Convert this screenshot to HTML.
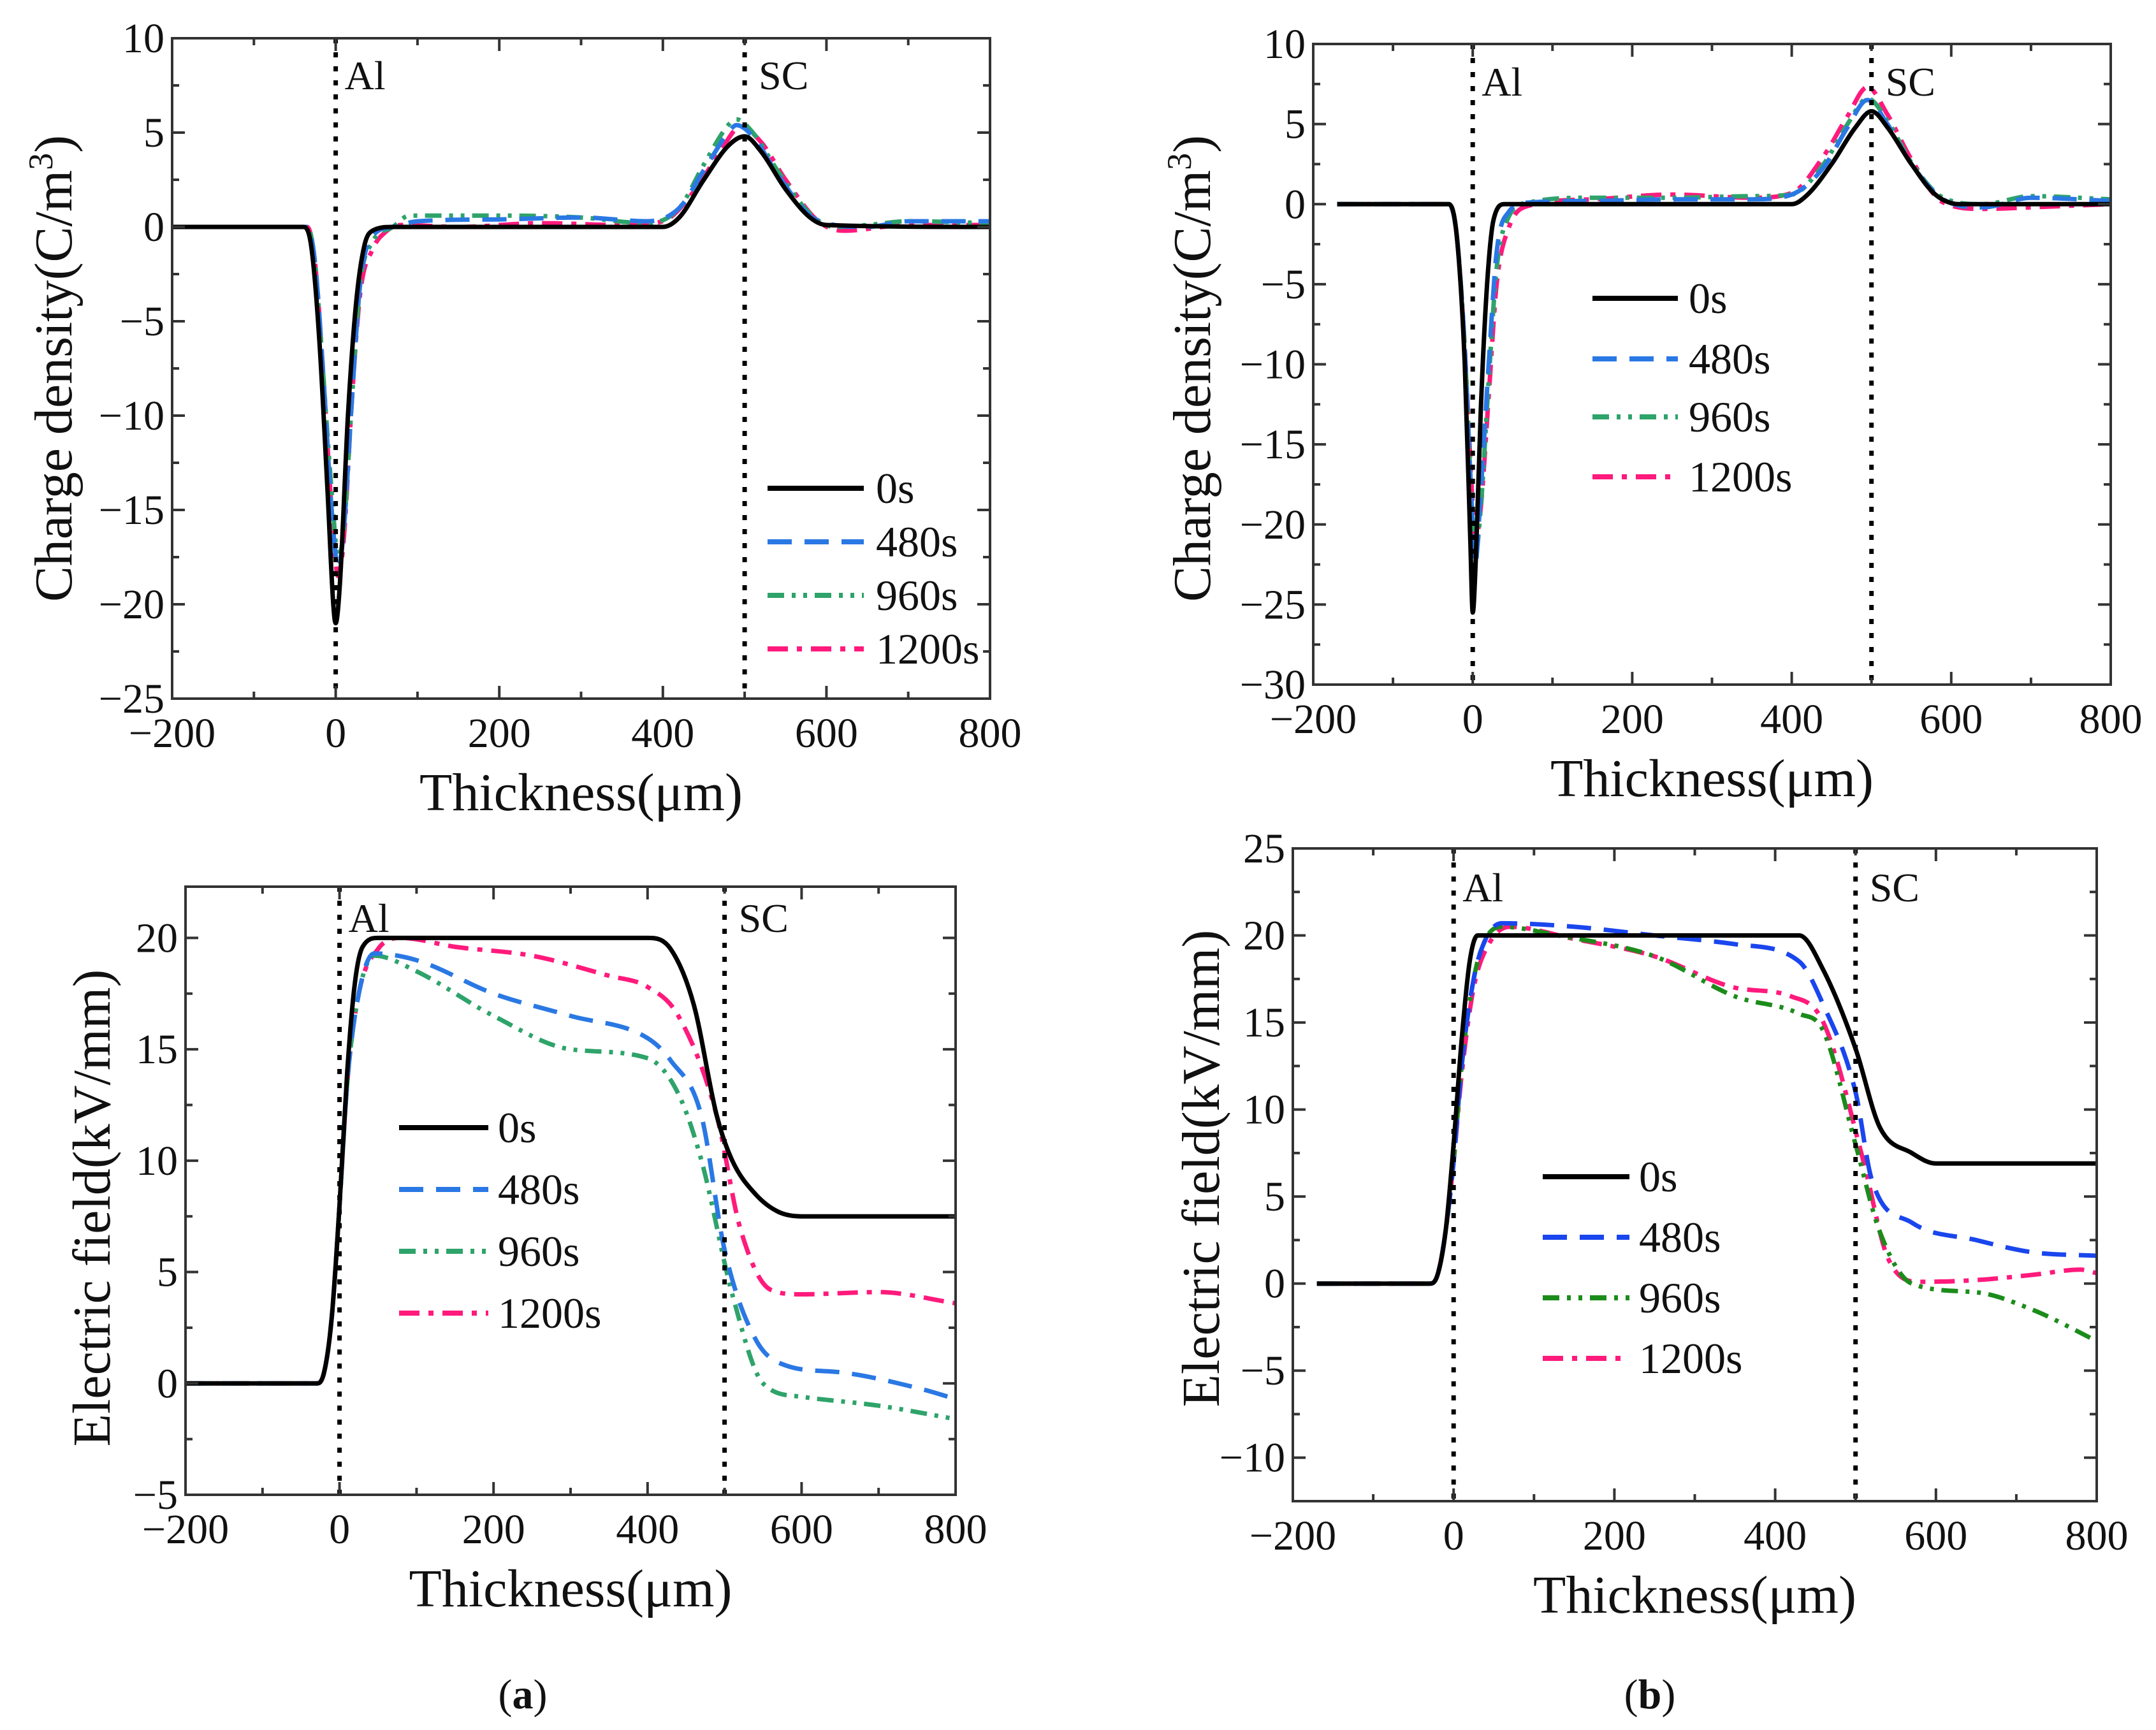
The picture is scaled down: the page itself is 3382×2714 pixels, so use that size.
<!DOCTYPE html>
<html><head><meta charset="utf-8"><style>
html,body{margin:0;padding:0;background:#fff}
svg text{font-family:"Liberation Serif","Times New Roman",serif;fill:#111}
</style></head><body>
<svg id="chart" width="3382" height="2709" viewBox="0 0 3382 2709" xmlns="http://www.w3.org/2000/svg" font-family="Liberation Serif, serif"></svg>
<script>
// ---- data (x in µm, y values) ----
const seriesNames = ["0s","480s","960s","1200s"];
const xTicks = [-200,0,200,400,600,800];
const yTicksA = [10,5,0,-5,-10,-15,-20,-25];
const yTicksB = [10,5,0,-5,-10,-15,-20,-25,-30];
const yTicksC = [20,15,10,5,0,-5];
const yTicksD = [25,20,15,10,5,0,-5,-10];

const qa0 = [[-200,0],[-40,0],[-30,-1],[-20,-6],[-10,-14],[-3,-20],[0,-21],[5,-19],[15,-10],[25,-4],[35,-1],[45,-0.2],[70,0],[400,0],[420,0.5],[450,2.5],[480,4.3],[500,4.8],[520,4],[550,2],[580,0.5],[600,0.1],[800,0]];
const qa1 = [[-200,0],[-35,0],[-25,-2],[-15,-8],[-5,-15],[3,-18],[10,-16],[20,-9],[30,-3],[45,-0.5],[70,0],[100,0.3],[200,0.4],[300,0.5],[380,0.3],[420,1],[450,3],[480,5],[490,5.4],[510,4.8],[540,2.8],[580,0.6],[610,0.1],[650,0],[700,0.3],[800,0.3]];
const qa2 = [[-200,0],[-35,0],[-25,-2],[-15,-8],[-5,-14],[3,-17.5],[10,-16],[20,-9],[30,-3],[45,-0.8],[70,0],[90,0.6],[200,0.6],[300,0.5],[380,0.2],[420,1],[450,3.3],[480,5.4],[490,5.7],[510,5],[540,3],[580,0.7],[610,0],[650,0.1],[700,0.3],[800,0.2]];
const qa3 = [[-200,0],[-35,0],[-25,-2],[-15,-8],[-5,-15],[3,-18.5],[10,-16.5],[20,-9],[30,-3.5],[45,-1.2],[60,-0.3],[80,0.1],[150,0],[250,0.2],[350,0.1],[400,0.3],[440,2],[470,4],[495,5.3],[520,4.5],[550,2.5],[590,0.3],[620,-0.2],[700,0.1],[800,0.1]];

const qb0 = [[-170,0],[-30,0],[-20,-2],[-10,-10],[-3,-21],[0,-25.5],[4,-22],[10,-13],[18,-5],[26,-1],[40,0],[400,0],[420,0.6],[450,2.5],[480,4.8],[500,5.8],[520,4.8],[550,2.5],[580,0.6],[610,0],[800,0]];
const qb1 = [[-170,0],[-30,0],[-20,-2],[-10,-9],[-2,-18],[3,-22.5],[10,-18],[20,-10],[30,-3],[45,-0.5],[70,0.1],[150,0.2],[250,0.3],[350,0.3],[400,0.6],[440,2.3],[470,4.8],[495,6.5],[520,5],[550,2.5],[590,0.3],[640,-0.2],[700,0.4],[800,0.2]];
const qb2 = [[-170,0],[-30,0],[-20,-2],[-10,-9],[-2,-18],[3,-22],[10,-19],[20,-11],[30,-4],[45,-0.8],[70,0.1],[150,0.4],[250,0.4],[350,0.5],[400,0.6],[440,2.5],[470,5],[495,6.6],[520,5.2],[550,2.6],[590,0.4],[640,0],[700,0.5],[800,0.3]];
const qb3 = [[-170,0],[-30,0],[-20,-2],[-10,-9],[-2,-17],[3,-21],[10,-19],[20,-12],[30,-5],[45,-1.5],[70,-0.1],[150,0.3],[250,0.6],[350,0.4],[400,0.7],[440,3],[470,5.5],[495,7.3],[520,5.6],[550,2.8],[590,0.1],[640,-0.3],[700,-0.2],[800,0]];

const ea0 = [[-200,0],[-30,0],[-20,0.5],[-10,3],[0,8],[10,14],[20,18],[30,19.6],[50,20],[400,20],[430,19.5],[460,17],[490,12],[510,10],[540,8.5],[570,7.7],[600,7.5],[800,7.5]];
const ea1 = [[-200,0],[-30,0],[-20,0.5],[-10,3],[0,8],[10,13.5],[25,17.5],[45,19.3],[100,19],[200,17.5],[300,16.5],[400,15.5],[430,14.5],[470,12],[500,6],[540,2],[580,0.8],[650,0.5],[750,-0.2],[800,-0.7]];
const ea2 = [[-200,0],[-30,0],[-20,0.5],[-10,3],[0,8],[10,13.5],[25,17.5],[45,19.2],[100,18.5],[200,16.5],[300,15],[400,14.6],[440,13],[470,10],[510,4],[550,0],[600,-0.6],[700,-1],[800,-1.6]];
const ea3 = [[-200,0],[-30,0],[-20,0.5],[-10,3],[0,8],[10,13.5],[25,17.5],[50,19.5],[80,20],[150,19.6],[250,19.2],[350,18.3],[400,17.8],[440,16.5],[490,12],[520,7],[560,4.2],[600,4],[700,4.1],[800,3.6]];

const eb0 = [[-170,0],[-30,0],[-20,0.5],[-10,3],[0,8],[10,14],[20,18.5],[30,20],[430,20],[460,18],[500,13.5],[530,9],[570,7.5],[600,6.9],[800,6.9]];
const eb1 = [[-170,0],[-30,0],[-20,0.5],[-10,3],[0,7],[10,12.5],[25,17.5],[40,19.8],[60,20.7],[150,20.5],[250,20],[350,19.5],[430,18.5],[460,16],[500,11],[520,6],[570,3.5],[650,2.5],[720,1.8],[800,1.6]];
const eb2 = [[-170,0],[-30,0],[-20,0.5],[-10,3],[0,7],[10,12.5],[25,17.5],[40,19.8],[60,20.5],[130,20],[250,18.8],[350,16.5],[430,15.5],[460,14.5],[500,8],[530,3],[570,0],[650,-0.5],[720,-1.5],[800,-3.3]];
const eb3 = [[-170,0],[-30,0],[-20,0.5],[-10,3],[0,7],[10,12],[25,17],[45,19.6],[70,20.5],[150,19.8],[250,18.8],[350,17],[420,16.5],[460,15],[510,7],[540,1.5],[580,0.1],[650,0.2],[720,0.5],[780,0.8],[800,0.6]];

const NS="http://www.w3.org/2000/svg";
const svg=document.getElementById('chart');
function mk(tag,attrs,parent){const e=document.createElementNS(NS,tag);for(const k in attrs)e.setAttribute(k,attrs[k]);(parent||svg).appendChild(e);return e;}

const colorsAB=["#000","#2a78e4","#2ea36a","#ff1a7c"];
const colorsD=["#000","#1a46ee","#1b8c1b","#ff1a7c"];
const dashes=["", "38 20", "26 12 6 12 6 12", "32 14 8 14"];

// monotone cubic (Fritsch-Carlson) in pixel space, x strictly increasing
function monoPath(pts){
  const n=pts.length, dx=[], s=[], m=[];
  for(let i=0;i<n-1;i++){dx[i]=pts[i+1][0]-pts[i][0];s[i]=(pts[i+1][1]-pts[i][1])/dx[i];}
  m[0]=s[0];m[n-1]=s[n-2];
  for(let i=1;i<n-1;i++){m[i]=(s[i-1]*s[i]<=0)?0:(s[i-1]+s[i])/2;}
  for(let i=0;i<n-1;i++){
    if(s[i]===0){m[i]=0;m[i+1]=0;continue;}
    const a=m[i]/s[i],b=m[i+1]/s[i],h=a*a+b*b;
    if(h>9){const t=3/Math.sqrt(h);m[i]=t*a*s[i];m[i+1]=t*b*s[i];}
  }
  let d="M"+pts[0][0].toFixed(1)+","+pts[0][1].toFixed(1);
  for(let i=0;i<n-1;i++){
    const h=dx[i]/3;
    d+=" C"+(pts[i][0]+h).toFixed(1)+","+(pts[i][1]+m[i]*h).toFixed(1)+" "+(pts[i+1][0]-h).toFixed(1)+","+(pts[i+1][1]-m[i+1]*h).toFixed(1)+" "+pts[i+1][0].toFixed(1)+","+pts[i+1][1].toFixed(1);
  }
  return d;
}

function panel(o){
  const g=mk('g',{});
  
  
  const X=v=>o.x0+(v-(-200))/1000*(o.x1-o.x0);
  const Y=v=>o.y0+(o.ymax-v)/(o.ymax-o.ymin)*(o.y1-o.y0);
  const cp=mk('clipPath',{id:o.id+'clip'},g);
  mk('rect',{x:o.x0,y:o.y0,width:o.x1-o.x0,height:o.y1-o.y0},cp);
  const sg=mk('g',{'clip-path':'url(#'+o.id+'clip)'},g);
  [3,2,1,0].forEach(i=>{
    const pts=o.series[i].map(p=>[X(p[0]),Y(p[1])]);
    const p=mk('path',{d:monoPath(pts),fill:'none',stroke:o.colors[i],'stroke-width':7,'stroke-dasharray':dashes[i],'stroke-linejoin':'round'},sg);
    
    
  });
  [0,500].forEach(v=>{
    const l=mk('line',{x1:X(v),x2:X(v),y1:o.y0,y2:o.y1,stroke:'#000','stroke-width':7,'stroke-dasharray':'8 14'},g);
    
    
  });
  const fr=mk('rect',{x:o.x0,y:o.y0,width:o.x1-o.x0,height:o.y1-o.y0,fill:'none',stroke:'#333','stroke-width':4},g);
  
  
  for(let v=-200;v<=800;v+=100){
    const L=(v%200===0)?20:11;
    mk('line',{x1:X(v),x2:X(v),y1:o.y1,y2:o.y1-L,stroke:'#333','stroke-width':4},g);
    mk('line',{x1:X(v),x2:X(v),y1:o.y0,y2:o.y0+L,stroke:'#333','stroke-width':4},g);
  }
  xTicks.forEach(v=>{
    const t=mk('text',{x:X(v),y:o.y1+76,'text-anchor':'middle','font-size':66},g);
    t.textContent=(v<0?'\u2212':'')+Math.abs(v);
    
    
  });
  const step=o.yticks[0]-o.yticks[1];
  for(let v=o.yticks[o.yticks.length-1];v<=o.yticks[0]+0.01;v+=step/2){
    if(v<o.ymin-0.01||v>o.ymax+0.01) continue;
    const major=Math.abs((v-o.yticks[0])/step-Math.round((v-o.yticks[0])/step))<0.01;
    const L=major?20:11;
    mk('line',{x1:o.x0,x2:o.x0+L,y1:Y(v),y2:Y(v),stroke:'#333','stroke-width':4},g);
    mk('line',{x1:o.x1,x2:o.x1-L,y1:Y(v),y2:Y(v),stroke:'#333','stroke-width':4},g);
  }
  o.yticks.forEach(v=>{
    const t=mk('text',{x:o.x0-12,y:Y(v)+22,'text-anchor':'end','font-size':66},g);
    t.textContent=(v<0?'\u2212':'')+Math.abs(v);
    
    
  });
  const a=mk('text',{x:X(0)+14,y:o.labY,'font-size':64},g);a.textContent='Al';
  
  const s=mk('text',{x:X(500)+22,y:o.labY,'font-size':64},g);s.textContent='SC';
  
  const xt=mk('text',{x:(o.x0+o.x1)/2,y:o.y1+175,'text-anchor':'middle','font-size':84},g);
  xt.textContent='Thickness(\u03bcm)';
  
  const yt=mk('text',{x:0,y:0,'text-anchor':'middle','font-size':84,transform:'translate('+o.ytx+','+o.yty+') rotate(-90)'},g);
  yt.innerHTML=o.ytitle;
  
  const lg=mk('g',{},g);
  
  seriesNames.forEach((n,i)=>{
    const yy=o.leg.y[i];
    const e=mk('g',{},lg);
    
    mk('line',{x1:o.leg.x0,x2:o.leg.x1,y1:yy,y2:yy,stroke:o.colors[i],'stroke-width':8,'stroke-dasharray':dashes[i]},e);
    const t=mk('text',{x:o.leg.tx,y:yy+23,'font-size':68},e);t.textContent=n;
  });
}

panel({id:'a',name:'charge-density-a',x0:270,x1:1553,y0:60,y1:1096,ymax:10,ymin:-25,yticks:yTicksA,series:[qa0,qa1,qa2,qa3],colors:colorsAB,labY:140,
  ytitle:'Charge density(C/m<tspan dy="-30" font-size="54">3</tspan><tspan dy="30">)</tspan>',ytx:112,yty:578,
  leg:{x0:1204,x1:1355,tx:1374,y:[766,850,934,1018]}});
panel({id:'b',name:'charge-density-b',x0:2060,x1:3311,y0:69,y1:1074,ymax:10,ymin:-30,yticks:yTicksB,series:[qb0,qb1,qb2,qb3],colors:colorsAB,labY:150,
  ytitle:'Charge density(C/m<tspan dy="-30" font-size="54">3</tspan><tspan dy="30">)</tspan>',ytx:1898,yty:578,
  leg:{x0:2498,x1:2632,tx:2649,y:[468,563,654,748]}});
panel({id:'c',name:'electric-field-a',x0:291,x1:1499,y0:1391,y1:2345,ymax:22.3,ymin:-5,yticks:yTicksC,series:[ea0,ea1,ea2,ea3],colors:colorsAB,labY:1462,
  ytitle:'Electric field(kV/mm)',ytx:172,yty:1895,
  leg:{x0:626,x1:766,tx:781,y:[1769,1866,1963,2060]}});
panel({id:'d',name:'electric-field-b',x0:2028,x1:3289,y0:1331,y1:2355,ymax:25,ymin:-12.5,yticks:yTicksD,series:[eb0,eb1,eb2,eb3],colors:colorsD,labY:1414,
  ytitle:'Electric field(kV/mm)',ytx:1912,yty:1833,
  leg:{x0:2420,x1:2556,tx:2571,y:[1846,1941,2036,2131]}});

[['(a)',820,'caption-a','a'],['(b)',2588,'caption-b','b']].forEach(c=>{
  const t=mk('text',{x:c[1],y:2680,'text-anchor':'middle','font-size':66});
  t.innerHTML='(<tspan font-weight="bold">'+c[3]+'</tspan>)';
  
});
</script>
</body></html>
